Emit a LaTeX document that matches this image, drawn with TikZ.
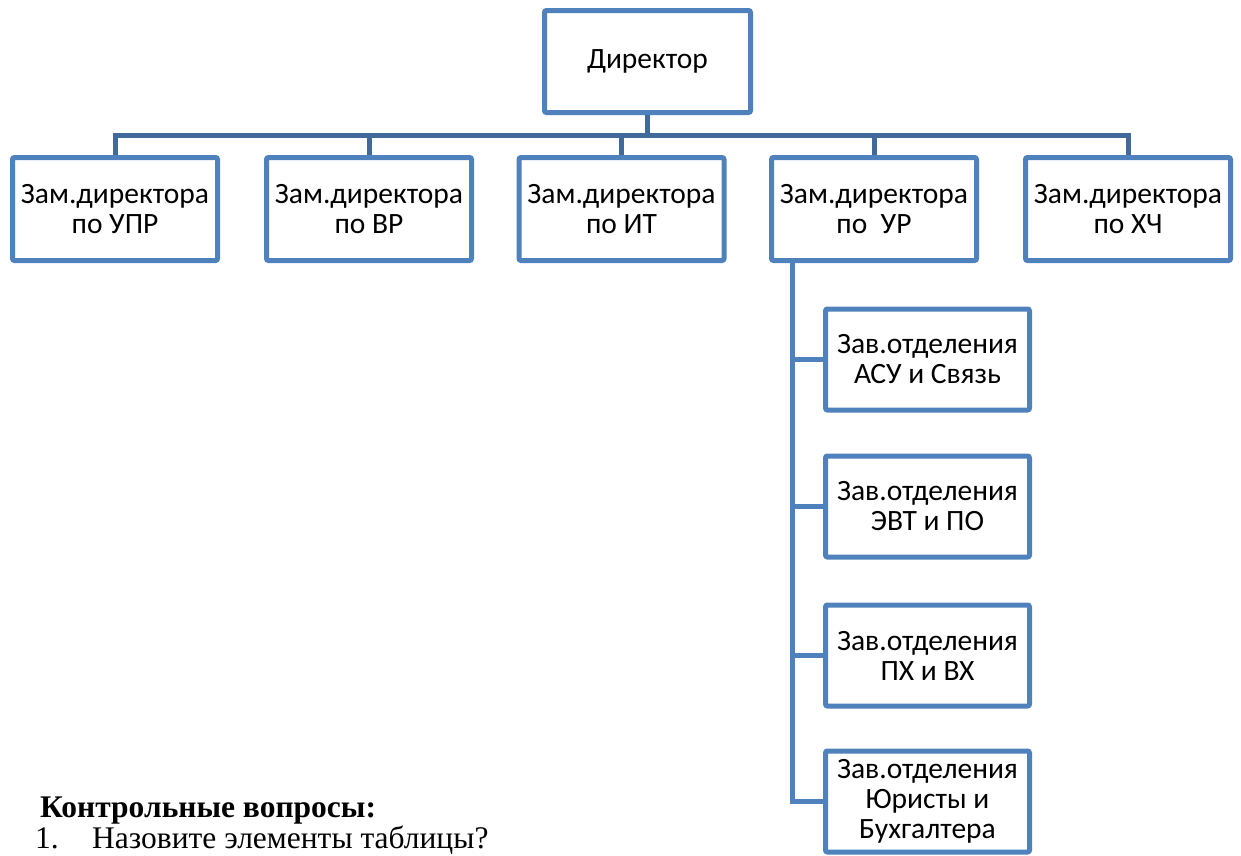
\documentclass[tikz,border=0pt]{standalone}
\usepackage{fontspec}
\usepackage{tikz}
\usetikzlibrary{positioning,calc}
\setmainfont{Liberation Serif}
\newfontfamily\boxfont{Carlito}
\definecolor{boxblue}{HTML}{4F81BD}
\definecolor{busblue}{HTML}{41699B}

\begin{document}
\begin{tikzpicture}[
    x=1pt, y=-1pt,
    unit/.style={rectangle, draw=boxblue, line width=5pt, rounded corners=2pt, fill=white,
                 align=center, font=\boxfont\fontsize{29.5}{30}\selectfont, inner sep=0pt},
    head/.style={unit, minimum width=206pt, minimum height=102pt},
    deputy/.style={unit, minimum width=205pt, minimum height=103pt},
    dept/.style={unit, minimum width=204pt, minimum height=101pt},
    bus/.style={draw=busblue, line width=5pt},
    trunk/.style={draw=boxblue, line width=5pt}
]
\useasboundingbox (0,0) rectangle (1241,855);

% Define node positions
\node[head] (dir) at (647.5, 61.5) {Директор};

\node[deputy] (upr) at (115, 209) {Зам.директора\\по УПР};
\node[deputy] (vr) at (369, 209) {Зам.директора\\по ВР};
\node[deputy] (it) at (621.5, 209) {Зам.директора\\по ИТ};
\node[deputy] (ur) at (874, 209) {Зам.директора\\по~~УР};
\node[deputy] (hch) at (1128, 209) {Зам.директора\\по ХЧ};

\node[dept] (asu) at (927.5, 359.5) {Зав.отделения\\АСУ и Связь};
\node[dept] (evt) at (927.5, 506.5) {Зав.отделения\\ЭВТ и ПО};
\node[dept] (phvh) at (927.5, 655.5) {Зав.отделения\\ПХ и ВХ};
\node[dept] (jur) at (927.5, 801.5) {Зав.отделения\\Юристы и\\Бухгалтера};

% Connect director with deputies
\draw[bus] (dir.south) -- ++(0,20) -| (upr.north);
\draw[bus] (dir.south) -- ++(0,20) -| (vr.north);
\draw[bus] (dir.south) -- ++(0,20) -| (it.north);
\draw[bus] (dir.south) -- ++(0,20) -| (ur.north);
\draw[bus] (dir.south) -- ++(0,20) -| (hch.north);

% Connect deputy with departments
\draw[trunk] ([xshift=23pt]ur.south west) |- (asu.west);
\draw[trunk] ([xshift=23pt]ur.south west) |- (evt.west);
\draw[trunk] ([xshift=23pt]ur.south west) |- (phvh.west);
\draw[trunk] ([xshift=23pt]ur.south west) |- (jur.west);

% Text below the chart
\node[anchor=base west, inner sep=0pt, font=\fontsize{31.5}{33}\selectfont\bfseries] (quest) at (40, 817) {Контрольные вопросы:};
\node[anchor=base west, inner sep=0pt, font=\fontsize{31.5}{33}\selectfont] (num) at (35, 848) {1.};
\node[anchor=base west, inner sep=0pt, font=\fontsize{31.5}{33}\selectfont] (q1) at (92, 848) {Назовите элементы таблицы?};

\end{tikzpicture}
\end{document}
